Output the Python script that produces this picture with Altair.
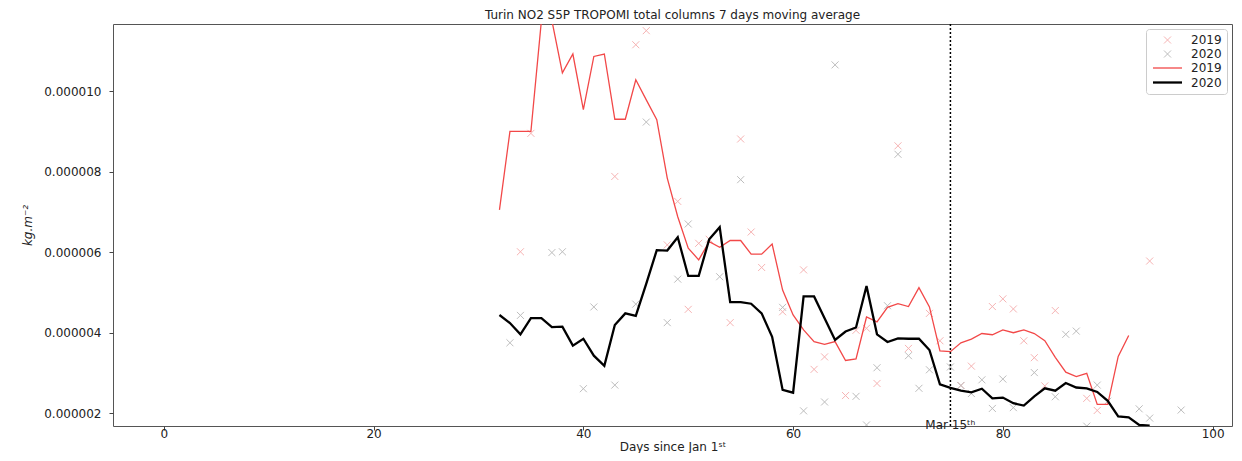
import altair as alt
import pandas as pd

TITLE = "Turin NO2 S5P TROPOMI total columns 7 days moving average"
X_TITLE = "Days since Jan 1ˢᵗ"
Y_TITLE = "kg.m⁻²"
EVENT_LABEL = "Mar 15ᵗʰ"
EVENT_DAY = 75
UNIT = 1e-6  # values below are in 1e-6 kg.m-2

# 7-day moving averages
line2019_days = list(range(32, 93))
line2019_vals = [
    7.05, 9.00, 9.00, 9.00, 11.75, 11.75, 10.45, 10.92, 9.54, 10.86,
    10.92, 9.30, 9.30, 10.28, 9.78, 9.29, 7.84, 6.88, 6.10, 5.81,
    6.26, 6.12, 6.29, 6.29, 5.95, 5.95, 6.20, 5.06, 4.44, 4.07,
    3.78, 3.71, 3.78, 3.31, 3.35, 4.39, 4.27, 4.63, 4.72, 4.65,
    5.12, 4.64, 3.55, 3.53, 3.75, 3.84, 3.98, 3.95, 4.07, 4.00,
    4.07, 3.98, 3.80, 3.39, 3.02, 2.91, 2.99, 2.22, 2.22, 3.41,
    3.93,
]
line2020_days = list(range(32, 95))
line2020_vals = [
    4.44, 4.24, 3.96, 4.36, 4.36, 4.14, 4.15, 3.68, 3.85, 3.43,
    3.18, 4.19, 4.48, 4.42, 5.22, 6.05, 6.04, 6.37, 5.41, 5.41,
    6.32, 6.62, 4.76, 4.76, 4.72, 4.48, 3.90, 2.58, 2.51, 4.90,
    4.90, 4.36, 3.82, 4.03, 4.13, 5.16, 3.96, 3.77, 3.86, 3.85,
    3.85, 3.57, 2.72, 2.63, 2.56, 2.52, 2.61, 2.37, 2.39, 2.25,
    2.19, 2.42, 2.62, 2.56, 2.75, 2.64, 2.62, 2.53, 2.31, 1.92,
    1.90, 1.71, 1.69,
]

# daily values
pts2019_days = [34, 35, 43, 45, 46, 48, 49, 50, 51, 52, 54, 55, 56, 57, 59, 61, 62, 63,
                65, 66, 67, 68, 70, 71, 73, 74, 76, 77, 79, 80, 81, 82, 83, 84, 85, 88,
                89, 94]
pts2019_vals = [6.01, 8.95, 7.88, 11.15, 11.50, 6.18, 7.26, 4.58, 6.22, 6.32, 4.25, 8.81,
                6.50, 5.62, 4.52, 5.56, 3.09, 3.40, 2.44, 4.06, 4.11, 2.74, 8.64, 3.61,
                4.48, 3.80, 2.69, 3.17, 4.65, 4.84, 4.59, 3.80, 3.38, 2.68, 4.55, 2.37,
                2.07, 5.78]
pts2020_days = [33, 34, 37, 38, 40, 41, 43, 45, 46, 48, 49, 50, 53, 55, 59, 61, 63, 64,
                66, 67, 68, 69, 70, 71, 72, 73, 75, 76, 77, 78, 79, 80, 81, 83, 85, 86,
                87, 88, 89, 90, 93, 94, 97]
pts2020_vals = [3.75, 4.43, 5.99, 6.01, 2.61, 4.64, 2.70, 4.71, 9.23, 4.25, 5.33, 6.70,
                5.39, 7.80, 4.63, 2.06, 2.28, 10.65, 2.42, 1.71, 3.13, 4.67, 8.43, 3.43,
                2.62, 3.08, 3.15, 2.69, 2.49, 2.83, 2.12, 2.85, 2.14, 3.01, 2.41, 3.96,
                4.04, 1.68, 2.70, 2.30, 2.11, 1.88, 2.08]

series_keys = ["2019 daily", "2020 daily", "2019 mean", "2020 mean"]
series_colors = ["#f6b3b3", "#bdbdbd", "#f24848", "#000000"]
# x marker; the bare move-to points give it the same extent as the line symbol
X_PATH = "M-2.9,0M-0.7,-0.7L0.7,0.7M-0.7,0.7L0.7,-0.7M2.9,0"
LINE_PATH = "M-2.9,0L2.9,0"
series_shapes = [X_PATH, X_PATH, LINE_PATH, LINE_PATH]
series_widths = [1.0, 1.0, 1.3, 2.3]

x_ticks = [0, 20, 40, 60, 80, 100]
y_ticks = [2e-6, 4e-6, 6e-6, 8e-6, 10e-6]
x_domain = [-4.85, 101.85]
y_domain = [1.684e-6, 11.665e-6]


def frame(days, vals, key):
    return pd.DataFrame({"day": days, "value": [v * UNIT for v in vals], "series": key})


pts_df = pd.concat([frame(pts2019_days, pts2019_vals, series_keys[0]),
                    frame(pts2020_days, pts2020_vals, series_keys[1])])
line_df = pd.concat([frame(line2019_days, line2019_vals, series_keys[2]),
                     frame(line2020_days, line2020_vals, series_keys[3])])
event_df = pd.DataFrame({"day": [EVENT_DAY], "label": [EVENT_LABEL], "value": [y_domain[0]]})

legend = alt.Legend(
    title=None, orient="top-right", offset=5,
    labelExpr="slice(datum.label, 0, 4)", labelFontSize=12, labelColor="#222",
    labelFont="DejaVu Sans",
    strokeColor="#cccccc", fillColor="white", cornerRadius=3, padding=5,
    rowPadding=2, symbolSize=100, symbolOffset=10, labelOffset=17,
)

color = alt.Color("series:N", scale=alt.Scale(domain=series_keys, range=series_colors), legend=legend)
shape = alt.Shape("series:N", scale=alt.Scale(domain=series_keys, range=series_shapes), legend=legend)
swidth = alt.StrokeWidth("series:N", scale=alt.Scale(type="ordinal", domain=series_keys, range=series_widths),
                         legend=legend)

x_enc = alt.X("day:Q", scale=alt.Scale(domain=x_domain, nice=False, zero=False),
              axis=alt.Axis(values=x_ticks, title=X_TITLE, grid=False, domain=False, tickSize=4,
                            tickColor="#444", labelFontSize=12, labelColor="#222",
                            labelBaseline="middle", labelPadding=3, titleFontSize=12,
                            titleFontWeight="normal", titleColor="#222", titleY=24.5,
                            titleBaseline="alphabetic"))
y_enc = alt.Y("value:Q", scale=alt.Scale(domain=y_domain, nice=False, zero=False),
              axis=alt.Axis(values=y_ticks, format=".6f", title=Y_TITLE, grid=False, domain=False,
                            tickSize=4, tickColor="#444", labelFontSize=12, labelColor="#222",
                            labelPadding=8, titleFontSize=12, titleFontWeight="normal",
                            titleFontStyle="italic", titleColor="#222", titleX=-86, titleY=201,
                            titleAngle=270, titleAlign="center", titleBaseline="middle"))

points = alt.Chart(pts_df).mark_point(filled=False, size=100, opacity=1, clip=True).encode(
    x=x_enc, y=y_enc, color=color, shape=shape, strokeWidth=swidth)

lines = alt.Chart(line_df).mark_line(clip=True).encode(
    x="day:Q", y="value:Q", color=color, strokeWidth=swidth)

rule = alt.Chart(event_df).mark_rule(color="black", strokeDash=[2, 2], strokeWidth=1.5).encode(x="day:Q")

label = alt.Chart(event_df).mark_text(baseline="alphabetic", dy=3, fontSize=12, color="#222",
                                      font="DejaVu Sans").encode(x="day:Q", y="value:Q", text="label:N")

chart = alt.layer(points, lines, rule, label).properties(
    width=1119, height=402,
    autosize=alt.AutoSizeParams(type="none"),
    padding={"left": 105, "top": 16, "right": 2, "bottom": 27},
    title=alt.TitleParams(TITLE, fontSize=12, fontWeight="normal", font="DejaVu Sans", color="#222",
                          offset=1.5, anchor="middle", frame="group"),
).configure(font="DejaVu Sans").configure_view(stroke="#555", strokeWidth=1)

chart.save("out.html", embed_options={"renderer": "svg", "actions": False})
